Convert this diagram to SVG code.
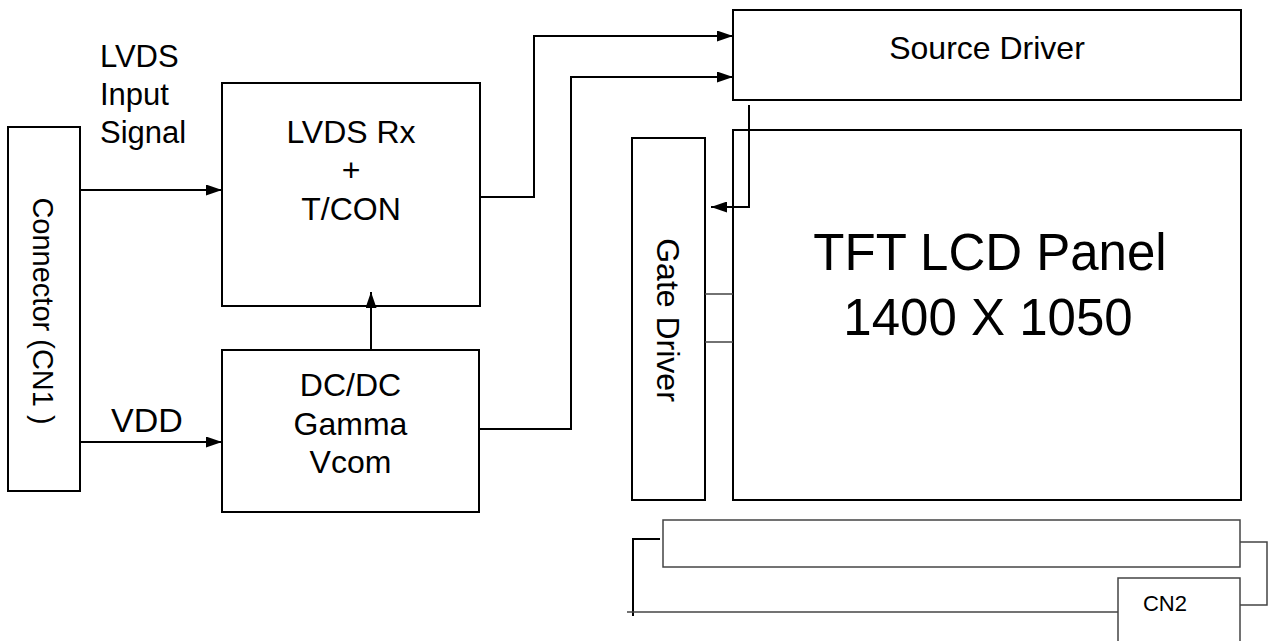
<svg xmlns="http://www.w3.org/2000/svg" width="1269" height="641" viewBox="0 0 1269 641">
<style>
.box{fill:#fff;stroke:#000;stroke-width:2}
.thin{fill:none;stroke:#444;stroke-width:1.5}
.ln{fill:none;stroke:#000;stroke-width:2}
text{font-family:"Liberation Sans",Arial,sans-serif;fill:#000}
.t32{font-size:32px}
</style>
<defs>
<marker id="ah" viewBox="0 0 16 11" refX="16" refY="5.5" markerWidth="16" markerHeight="11" markerUnits="userSpaceOnUse" orient="auto">
<path d="M0,0 L16,5.5 L0,11 Z" fill="#000"/>
</marker>
</defs>
<rect width="1269" height="641" fill="#fff"/>

<g id="connector-cn1">
<rect class="box" x="8" y="127" width="72" height="364"/>
<text class="t32" style="font-size:29px" text-anchor="middle" transform="translate(33,311) rotate(90)">Connector (CN1 )</text>
</g>

<g id="label-lvds-input">
<text x="100" y="67" style="font-size:31px">LVDS</text>
<text x="100" y="105" style="font-size:31px">Input</text>
<text x="100" y="143" style="font-size:31px">Signal</text>
</g>
<g id="label-vdd">
<text x="111" y="432" style="font-size:34px">VDD</text>
</g>

<g id="lvds-rx">
<rect class="box" x="222" y="83" width="258" height="223"/>
<text class="t32" x="351" y="143" text-anchor="middle">LVDS Rx</text>
<text class="t32" x="351" y="181" text-anchor="middle">+</text>
<text class="t32" x="351" y="220" text-anchor="middle">T/CON</text>
</g>

<g id="dcdc">
<rect class="box" x="222" y="350" width="257" height="162"/>
<text class="t32" x="350.5" y="396" text-anchor="middle">DC/DC</text>
<text class="t32" x="350.5" y="435" text-anchor="middle">Gamma</text>
<text class="t32" x="350.5" y="473" text-anchor="middle">Vcom</text>
</g>

<g id="source-driver">
<rect class="box" x="733" y="10" width="508" height="90"/>
<text class="t32" x="987" y="59" text-anchor="middle">Source Driver</text>
</g>

<g id="gate-driver">
<rect class="box" x="632" y="138" width="73" height="362"/>
<text class="t32" text-anchor="middle" transform="translate(657,320) rotate(90)">Gate Driver</text>
</g>

<g id="tft-panel">
<rect class="box" x="733" y="130" width="508" height="370"/>
<text x="990" y="270" text-anchor="middle" style="font-size:51px">TFT LCD Panel</text>
<text x="988" y="335" text-anchor="middle" style="font-size:51px">1400 X 1050</text>
</g>

<g id="pcb-strip">
<rect class="thin" x="663" y="520" width="577" height="47"/>
</g>

<g id="cn2">
<rect class="thin" x="1118" y="578" width="122" height="70" style="fill:#fff"/>
<text x="1165" y="611" text-anchor="middle" style="font-size:22px">CN2</text>
</g>

<g id="connectors">
<path class="ln" d="M80,190 H222" marker-end="url(#ah)"/>
<path class="ln" d="M80,442 H222" marker-end="url(#ah)"/>
<path class="ln" d="M371,350 V292" marker-end="url(#ah)"/>
<path class="ln" d="M480,197 H534 V36 H733" marker-end="url(#ah)"/>
<path class="ln" d="M479,429 H571 V77 H733" marker-end="url(#ah)"/>
<path class="ln" d="M749,105 V207 H711" marker-end="url(#ah)"/>
<path class="thin" d="M705,294 H733 M705,342 H733"/>
<path class="ln" d="M660,539 H633 V616"/>
<path class="thin" d="M627,612 H1118"/>
<path class="thin" d="M1240,542 H1267 V605 H1240"/>
</g>
</svg>
